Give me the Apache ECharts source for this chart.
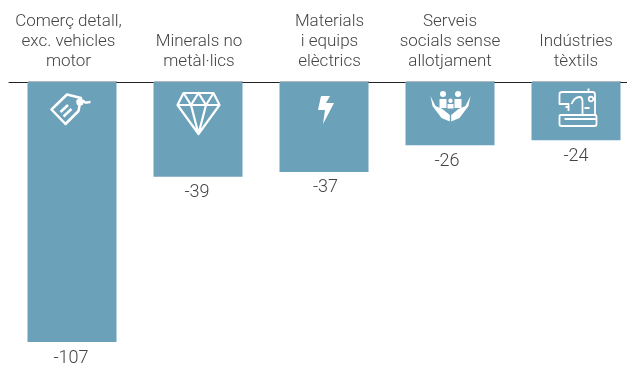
<!DOCTYPE html>
<html><head><meta charset="utf-8">
<style>html,body{margin:0;padding:0;background:#fff}#c{width:627px;height:365px}</style>
<script src="https://cdn.jsdelivr.net/npm/echarts@6/dist/echarts.min.js"></script>
</head><body><div id="c"></div>
<script>
const categories = ["Comerç detall,\nexc. vehicles\nmotor", "Minerals no\nmetàl·lics", "Materials\ni equips\nelèctrics", "Serveis\nsocials sense\nallotjament", "Indústries\ntèxtils"];
const values = [-107, -39, -37, -26, -24];
const BAR = "#6ca1ba", TXT = "#444444";
// Small per-item text nudges seen in the reference
const catPadding = [[0,7,0,0],[0,0,0,2],[0,0,0,11],[0,0,0,0],[0,0,0,0]];
const valueOffsetX = [-1,-1,1.5,-3,0];

// Icon outlines, in pixels relative to the bar's top-centre
const icons = [
 {w:2.5, stroke:"M-21 27.5 L-5.5 12.5 L8.5 16 L6 29 L-7 42 Z M-12 30 L-4.5 23 M-9 34.5 L-1 27 M5 20 A2.4 2.4 0 1 1 5 20.1 M4 20 C8 17 10 18 12 20 C14 21.5 15 20 18 20"},
 {w:2.2, stroke:"M-15 11 L15 11 L21 23 L0 52 L-21 23 Z M-21 23 L21 23 M-15 11 L-7.5 23 L0 11 L7.5 23 L15 11 M-7.5 23 L0 52 L7.5 23"},
 {fill:"M-3.5 14 L5.5 14 L1.5 21 L9.5 21 L-1.5 42 L0.5 28 L-6.5 28 Z"},
 {fill:"M-20 14 L-18 24 L-9 36 L-0.7 39.5 L-0.7 33 L-8 27 L-15 24 Z M20 14 L18 24 L9 36 L0.7 39.5 L0.7 33 L8 27 L15 24 Z M-7.5 9 A3 3 0 1 1 -7.5 15 A3 3 0 1 1 -7.5 9 M7.5 9 A3 3 0 1 1 7.5 15 A3 3 0 1 1 7.5 9 M0 16.5 A2.2 2.2 0 1 1 0 20.9 A2.2 2.2 0 1 1 0 16.5 M-11 17 L-4 17 L-4 26 L-11 26 Z M4 17 L11 17 L11 26 L4 26 Z M-3 22 L3 22 L3 26.5 L-3 26.5 Z"},
 {w:1.8, stroke:"M-14 10 L16 10 Q18.5 10 18.5 12.5 L18.5 33 M12 6.5 L12 10 M-17 12 Q-17 10 -14 10 M-17 12 L-17 22 L-8 22 L-8 29 M-11 25 L-8 25 M-5 22 Q-2 15 3 15 Q6 15 6 20 L6 33 M8 26 L13 26 M-16 33 L18.5 33 Q20 33 20 35 L20 42 Q20 44 18 44 L-15 44 Q-17 44 -17 42 L-17 35 Q-17 33 -16 33 M-12 37 L19 37 M12.2 17 A2.3 2.3 0 1 1 12.2 17.1"}
];

const chart = echarts.init(document.getElementById('c'), null, {renderer:'canvas'});
chart.setOption({
  animation:false,
  grid:{left:9, width:630, top:82, height:260, outerBoundsMode:'none'},
  textStyle:{fontFamily:'Roboto'},
  xAxis:{type:'category', position:'top',
    data:categories.map((c,i)=>({value:c, textStyle:{padding:catPadding[i]}})),
    axisTick:{show:false},
    axisLine:{lineStyle:{color:'#222', width:1}},
    axisLabel:{interval:0, color:TXT, fontSize:17, fontWeight:300, fontFamily:'Roboto', lineHeight:20, margin:10, hideOverlap:false}},
  yAxis:{type:'value', min:-107, max:0, show:false, splitLine:{show:false}},
  series:[
    {type:'bar', data:values.map((v,i)=>({value:v, label:{offset:[valueOffsetX[i],0]}})), barWidth:89, itemStyle:{color:BAR}, z:3,
     label:{show:true, position:'bottom', distance:7, color:TXT, fontSize:18, fontWeight:300, fontFamily:'Roboto'}},
    {type:'custom', data:values.map((v,i)=>[i,0]), z:5, silent:true, clip:false,
     encode:{x:0,y:1},
     renderItem(params, api){
       const p = api.coord([api.value(0), 0]);
       const ic = icons[params.dataIndex];
       const x = Math.round(p[0]*2)/2 + 0.5, y = Math.round(p[1]);
       return {type:'group', x, y, children:[
         {type:'rect', shape:{x:-44.5,y:-1,width:89,height:1}, style:{fill:'#b4b8ba'}},
         ic.stroke ? {type:'path', shape:{pathData:ic.stroke}, style:{fill:'none',stroke:'#fff',lineWidth:ic.w,lineJoin:'round'}} : null,
         ic.fill ? {type:'path', shape:{pathData:ic.fill}, style:{fill:'#fff'}} : null
       ].filter(Boolean)};
     }}
  ]
});
</script></body></html>
